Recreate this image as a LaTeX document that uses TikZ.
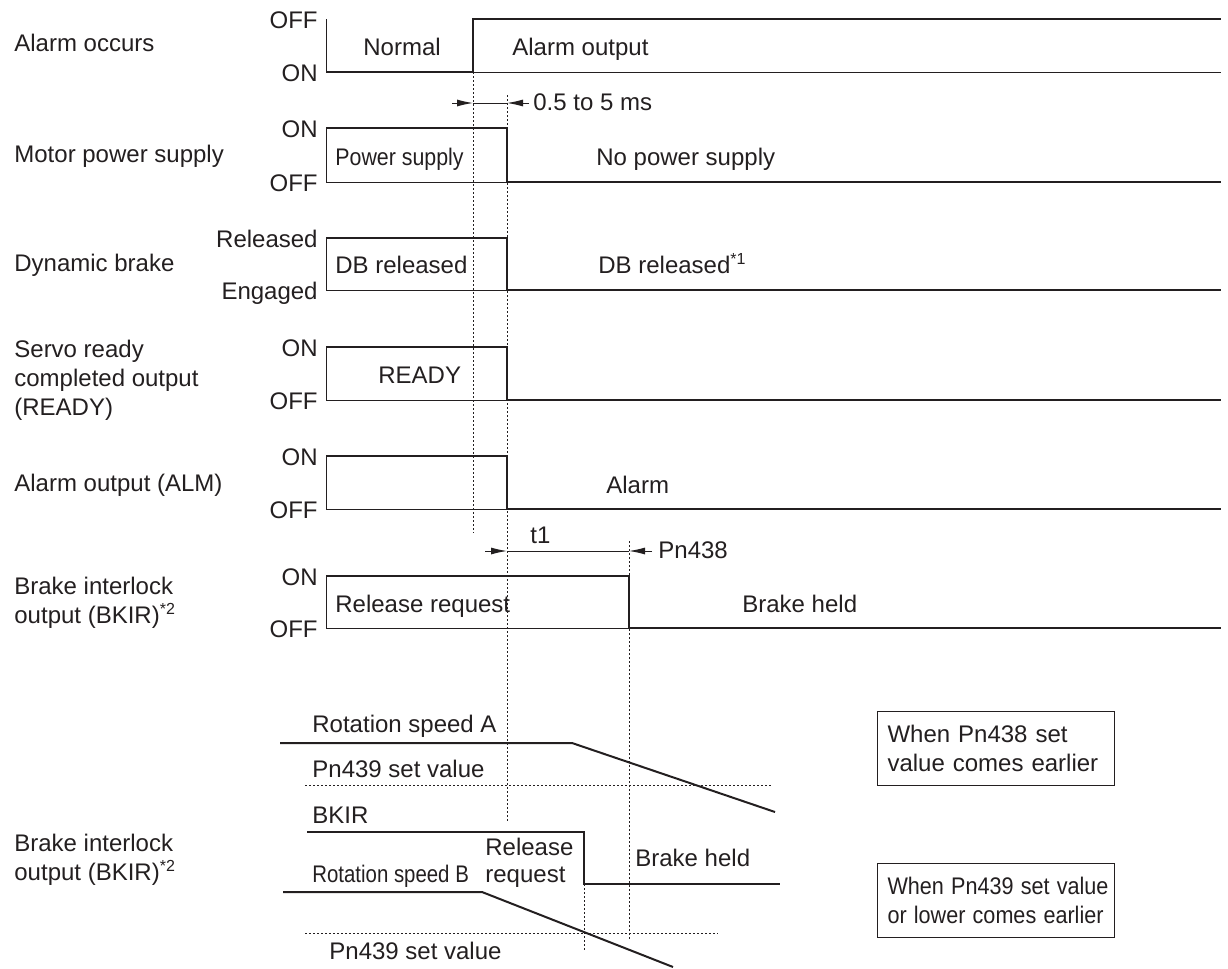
\documentclass[tikz,border=0pt]{standalone}
\usepackage{fontspec}
\setmainfont{Liberation Sans}
\usetikzlibrary{arrows.meta}
\definecolor{ink}{RGB}{35,31,32}

\begin{document}
\begin{tikzpicture}[
  x=0.5pt, y=-0.5pt,
  every node/.style={font=\fontsize{12}{14.5}\selectfont, text=ink, inner sep=0pt},
  sig/.style={draw=ink, line width=1pt},
  base/.style={draw=ink, line width=0.5pt},
  guide/.style={draw=ink, line width=0.5pt, dash pattern=on 1pt off 1pt},
  dim/.style={draw=ink, line width=0.5pt, -{Latex[length=8pt,width=3.5pt]}},
  lvl/.style={anchor=base east},
  sname/.style={anchor=base west, align=left},
  txt/.style={anchor=base west},
  note/.style={draw=ink, line width=0.5pt, anchor=north west, align=left, text width=108.5pt, inner xsep=5pt, minimum height=37pt}
]
\useasboundingbox (0,0) rectangle (1228,969);

% dotted guides
\draw[guide] (473,72) -- (473,533);
\draw[guide] (507,95) -- (507,822);
\draw[guide] (629,541) -- (629,939);
\draw[guide] (584,884) -- (584,950);
\draw[guide] (305,785) -- (773,785);
\draw[guide] (305,933) -- (718,933);

% signal names (base = last line)
\node[sname] (occurs) at (14,52) {Alarm occurs};
\node[sname] (motor) at (14,162) {Motor power supply};
\node[sname] (dbrake) at (14,271) {Dynamic brake};
\node[sname] (ready) at (14,415) {Servo ready\\completed output\\(READY)};
\node[sname] (alm) at (14,491) {Alarm output (ALM)};
\node[sname] (bkir) at (14,623) {Brake interlock\\output (BKIR)\textsuperscript{*2}};
\node[sname] (bkirb) at (14,880) {Brake interlock\\output (BKIR)\textsuperscript{*2}};

% levels
\node[lvl] (occ-off) at (318,28) {OFF};
\node[lvl] (occ-on) at (318,81) {ON};
\node[lvl] (mot-on) at (318,137) {ON};
\node[lvl] (mot-off) at (318,191) {OFF};
\node[lvl] (db-rel) at (318,247) {Released};
\node[lvl] (db-eng) at (318,299) {Engaged};
\node[lvl] (rdy-on) at (318,356) {ON};
\node[lvl] (rdy-off) at (318,409) {OFF};
\node[lvl] (alm-on) at (318,465) {ON};
\node[lvl] (alm-off) at (318,518) {OFF};
\node[lvl] (bk-on) at (318,585) {ON};
\node[lvl] (bk-off) at (318,637) {OFF};

% waveforms
\draw[base] (326,19) -- (326,72) -- (1221,72);
\draw[sig] (326,72) -- (473,72) -- (473,19) -- (1221,19);
\draw[base] (326,128) -- (326,182) -- (507,182);
\draw[sig] (326,128) -- (507,128) -- (507,182) -- (1221,182);
\draw[base] (326,238) -- (326,290) -- (507,290);
\draw[sig] (326,238) -- (507,238) -- (507,290) -- (1221,290);
\draw[base] (326,347) -- (326,400) -- (507,400);
\draw[sig] (326,347) -- (507,347) -- (507,400) -- (1221,400);
\draw[base] (326,456) -- (326,509) -- (507,509);
\draw[sig] (326,456) -- (507,456) -- (507,509) -- (1221,509);
\draw[base] (326,576) -- (326,628) -- (629,628);
\draw[sig] (326,576) -- (629,576) -- (629,628) -- (1221,628);

\node[txt] (normal) at (363,55) {Normal};
\node[txt] (almout) at (512,55) {Alarm output};
\node[txt] (pwr) at (335,165) {\scalebox{0.89}[1]{Power supply}};
\node[txt] (nopwr) at (596,165) {No power supply};
\node[txt] (dbrel) at (335,273) {DB released};
\node[txt] (dbrel1) at (598,273) {DB released\textsuperscript{*1}};
\node[txt] (rdy) at (378,383) {READY};
\node[txt] (alarm) at (606,493) {Alarm};
\node[txt] (relreq) at (335,612) {Release request};
\node[txt] (held) at (742,612) {Brake held};

% timing marks
\coordinate (d1a) at (452,103);
\coordinate (d1b) at (473,103);
\coordinate (d1c) at (507,103);
\coordinate (d1d) at (529,103);
\draw[dim] (d1a) -- (d1b);
\draw[base] (d1b) -- (d1c);
\draw[dim] (d1d) -- (d1c);
\node[txt] (delay) at (533,110) {0.5 to 5 ms};

\coordinate (d2a) at (485,551);
\coordinate (d2b) at (507,551);
\coordinate (d2c) at (629,551);
\coordinate (d2d) at (652,551);
\draw[dim] (d2a) -- (d2b);
\draw[base] (d2b) -- (d2c);
\draw[dim] (d2d) -- (d2c);
\node[txt] (t1) at (530,543) {t1};
\node[txt] (pn438) at (658,558) {Pn438};

% speed curves
\draw[sig] (280,743) -- (572,743) -- (775,812);
\draw[sig] (307,832) -- (584,832) -- (584,884) -- (780,884);
\draw[sig] (283,892) -- (482,892) -- (673,967);

\node[txt] (speedA) at (312,732) {Rotation speed A};
\node[txt] (pn439a) at (312,777) {Pn439 set value};
\node[txt] (bkirtxt) at (312,823) {BKIR};
\node[txt] (speedB) at (312,882) {\scalebox{0.85}[1]{Rotation speed B}};
\node[txt, align=left, font=\fontsize{12}{13.5}\selectfont] (relreq2) at (485,882) {Release\\request};
\node[txt] (held2) at (635,866) {Brake held};
\node[txt] (pn439b) at (329,959) {Pn439 set value};

% notes
\node[note] (caseA) at (877,711) {When Pn438 set\\value comes earlier};
\node[note] (caseB) at (877,863) {\scalebox{0.9}[1]{When Pn439 set value}\\\scalebox{0.9}[1]{or lower comes earlier}};
\end{tikzpicture}
\end{document}
